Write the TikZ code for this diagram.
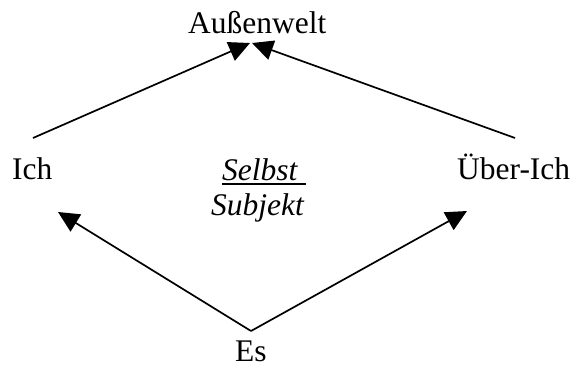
\documentclass[tikz,border=0pt]{standalone}
\usepackage{fontspec}
\setmainfont{Liberation Serif}
\usetikzlibrary{arrows.meta}
\begin{document}
\begin{tikzpicture}[x=1bp,y=-1bp,
  lbl/.style={inner sep=0pt,anchor=base west,font=\fontsize{31.6}{36}\selectfont},
  conn/.style={line width=1.7bp,-{Triangle[length=21bp,width=20bp]}}]
\useasboundingbox (0,0) rectangle (574,367);
\node[lbl] (aw) at (188,33) {Außenwelt};
\node[lbl] (ich) at (12,179) {Ich};
\node[lbl] (ueber) at (457,179) {Über-Ich};
\node[lbl] (selbst) at (222,180) {\textit{Selbst}};
\node[lbl] (subj) at (211,215) {\textit{Subjekt}};
\node[lbl] (es) at (235,361) {Es};
\draw[line width=1.8bp] ([yshift=-4bp]selbst.base west) -- ([yshift=-4bp,xshift=8bp]selbst.base east);
\coordinate (ichtop) at (33,138);
\coordinate (uebertop) at (515,138);
\coordinate (awl) at (250,43);
\coordinate (awr) at (252,43);
\coordinate (esv) at (251,331);
\coordinate (ichtip) at (58,212);
\coordinate (uebertip) at (467,211);
\draw[conn] (ichtop) -- (awl);
\draw[conn] (uebertop) -- (awr);
\draw[conn] (esv) -- (ichtip);
\draw[conn] (esv) -- (uebertip);
\end{tikzpicture}
\end{document}
